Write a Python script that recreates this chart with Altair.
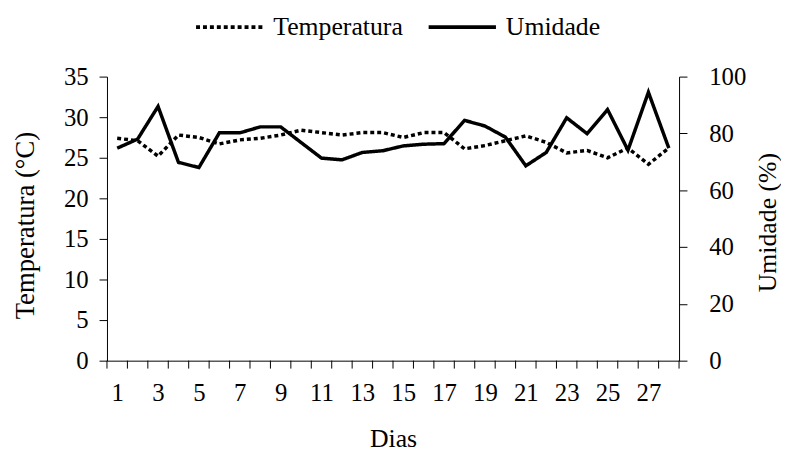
import altair as alt
import pandas as pd

dias = list(range(1, 29))
temperatura = [27.4, 27.1, 25.2, 27.8, 27.5, 26.7, 27.2, 27.4, 27.8, 28.4,
               28.1, 27.8, 28.1, 28.1, 27.5, 28.1, 28.1, 26.1, 26.5, 27.1,
               27.7, 26.9, 25.6, 25.9, 25.0, 26.2, 24.2, 26.2]
umidade = [74.8, 78.0, 89.5, 69.8, 68.0, 80.2, 80.2, 82.3, 82.3, 76.8,
           71.3, 70.7, 73.3, 73.9, 75.6, 76.2, 76.4, 84.6, 82.6, 78.7,
           68.6, 73.3, 85.5, 79.9, 88.4, 74.1, 94.5, 74.8]
series = ["Temperatura", "Umidade"]
x_labels = list(range(1, 28, 2))
tick_pos = [i + 0.5 for i in range(29)]

FONT = "Liberation Serif"
LFS = 25
TFS = 27

df = pd.DataFrame({
    "dia": dias * 2,
    "valor": temperatura + umidade,
    "serie": ["Temperatura"] * len(dias) + ["Umidade"] * len(dias),
})
ticks_df = pd.DataFrame({"t": tick_pos})

xscale = alt.Scale(domain=[0.5, 28.5], nice=False, zero=False)
xaxis = alt.Axis(values=x_labels, tickSize=0, labelPadding=20, title="Dias",
                 titlePadding=21, grid=False, labelFontSize=LFS, titleFontSize=26,
                 labelFont=FONT, titleFont=FONT, domainColor="black",
                 labelColor="black", titleColor="black", titleFontWeight="normal")

dash = alt.StrokeDash("serie:N",
                      scale=alt.Scale(domain=series, range=[[4, 3], [1, 0]]),
                      legend=alt.Legend(title=None, orient="none", legendX=88, legendY=-86,
                                        direction="horizontal", symbolType="stroke",
                                        symbolSize=4624, symbolStrokeWidth=4,
                                        symbolStrokeColor="black", labelFont=FONT,
                                        labelFontSize=26, labelColor="black",
                                        columnPadding=18, labelOffset=8))

temp = alt.Chart(df).transform_filter(alt.datum.serie == "Temperatura").mark_line(
    color="black", strokeWidth=3.5, strokeCap="butt"
).encode(
    x=alt.X("dia:Q", scale=xscale, axis=xaxis),
    y=alt.Y("valor:Q", scale=alt.Scale(domain=[0, 35], nice=False),
            axis=alt.Axis(orient="left", values=list(range(0, 36, 5)), title="Temperatura (°C)",
                          grid=False, tickSize=8, labelPadding=11, titlePadding=24,
                          titleY=150,
                          labelFontSize=LFS, titleFontSize=TFS, labelFont=FONT, titleFont=FONT,
                          domainColor="black", tickColor="black", labelColor="black",
                          titleColor="black", titleFontWeight="normal")),
    strokeDash=dash,
)

umid = alt.Chart(df).transform_filter(alt.datum.serie == "Umidade").mark_line(
    color="black", strokeWidth=3.5
).encode(
    x=alt.X("dia:Q", scale=xscale, axis=xaxis),
    y=alt.Y("valor:Q", scale=alt.Scale(domain=[0, 100], nice=False),
            axis=alt.Axis(orient="right", values=list(range(0, 101, 20)), title="Umidade (%)",
                          grid=False, tickSize=8, labelPadding=22, titlePadding=9,
                          titleAngle=270, titleBaseline="top", titleY=147,
                          labelFontSize=LFS, titleFontSize=26, labelFont=FONT, titleFont=FONT,
                          domainColor="black", tickColor="black", labelColor="black",
                          titleColor="black", titleFontWeight="normal")),
    strokeDash=dash,
)

xticks = alt.Chart(ticks_df).mark_rule(color="black", strokeWidth=1).encode(
    x=alt.X("t:Q", scale=xscale, axis=xaxis),
    y=alt.value(287),
    y2=alt.value(295),
)

chart = alt.layer(xticks, temp, umid).resolve_scale(y="independent").properties(
    width=578, height=287,
    autosize=alt.AutoSizeParams(type="none"),
    padding={"left": 100, "top": 67, "right": 103, "bottom": 93},
).configure_view(stroke=None)

chart.save("out.html", embed_options={"renderer": "svg", "actions": False})
